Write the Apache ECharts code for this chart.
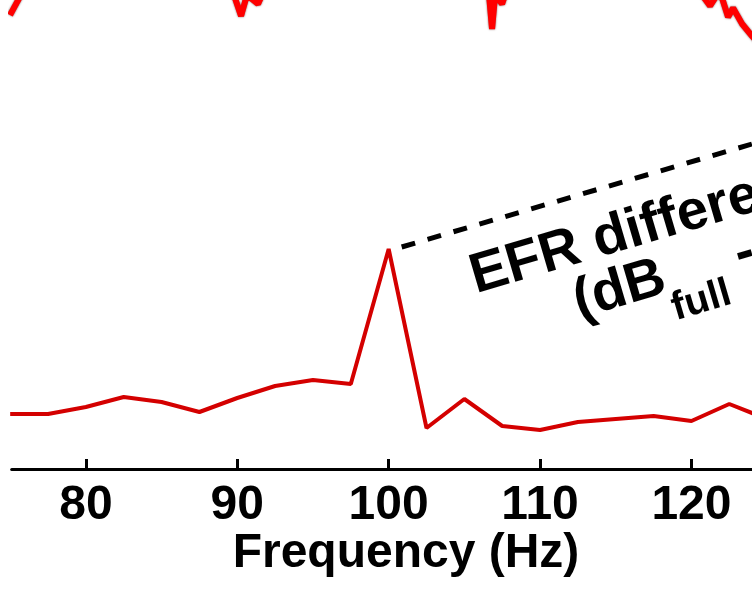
<!DOCTYPE html>
<html>
<head>
<meta charset="utf-8">
<script src="https://cdn.jsdelivr.net/npm/echarts@6/dist/echarts.min.js"></script>
<style>html,body{margin:0;padding:0;background:#fff}#c{width:752px;height:589px}</style>
</head>
<body>
<div id="c"></div>
<script>
// Frequency bins (Hz) and EFR amplitude (arbitrary dB units)
const freqs = [75, 77.5, 80, 82.5, 85, 87.5, 90, 92.5, 95, 97.5, 100, 102.5, 105, 107.5, 110, 112.5, 115, 117.5, 120, 122.5, 125];
const efr   = [5.5, 5.5, 6.2, 7.2, 6.7, 5.7, 7.1, 8.3, 8.9, 8.5, 22.0, 4.1, 7.0, 4.3, 3.9, 4.7, 5.0, 5.3, 4.8, 6.5, 5.0];
const tickValues = [80, 90, 100, 110, 120];
// upper (cropped) trace: only dips that reach into view
const upperSeg1 = [[74.99, 45.4], [75.71, 47.4]];
const upperSeg2 = [[89.78, 47.4], [90.25, 45.3], [90.64, 47.4], [91.37, 46.5], [91.63, 47.4]];
const upperSeg3 = [[106.63, 47.4], [106.83, 44.0], [107.03, 47.4], [107.49, 46.5], [107.69, 47.4]];
const upperSeg4 = [[120.70, 47.4], [121.23, 46.3], [121.69, 47.4], [122.02, 47.1], [122.42, 45.2], [122.75, 46.1], [123.35, 44.5], [124.0, 43.3], [124.53, 42.4]];
// dashed annotation line (start/end in data space)
const dashStart = [100.86, 22.2];
const dashEnd = [124.0, 32.5];

const chart = echarts.init(document.getElementById('c'));
const FONT = 'Liberation Sans, Arial, sans-serif';
const upperStyle = {color: '#ff0000', width: 6, shadowColor: 'rgba(60,0,0,0.7)', shadowBlur: 2};
function upper(seg) {
  return {type: 'line', data: seg, symbol: 'none', lineStyle: upperStyle, silent: true, clip: true, z: 1};
}
// baseline helper for textVerticalAlign 'bottom'
function bl(v, fs) { return v + 0.1535 * fs; }
const F1 = 56, FS = 40;
chart.setOption({
  animation: false,
  grid: {left: 11.7, right: 0, top: 0, bottom: 120},
  xAxis: {
    type: 'value', min: 75.1, max: 124,
    axisLine: {show: true, lineStyle: {color: '#000', width: 3}},
    axisTick: {show: true, inside: true, length: 10, lineStyle: {color: '#000', width: 3}, customValues: tickValues},
    axisLabel: {show: true, customValues: tickValues, fontSize: 48, fontWeight: 'bold', fontFamily: FONT, color: '#000', margin: 13},
    splitLine: {show: false}
  },
  yAxis: {type: 'value', min: 0, max: 46.9, show: false},
  series: [
    {
      type: 'line', data: freqs.map((f, i) => [f, efr[i]]), symbol: 'none', clip: true,
      lineStyle: {color: '#d40000', width: 4}, z: 3,
      markLine: {
        silent: true, symbol: 'none', label: {show: false},
        lineStyle: {color: '#000', width: 5, type: [14, 13]},
        data: [[{coord: dashStart}, {coord: dashEnd}]]
      }
    },
    upper(upperSeg1), upper(upperSeg2), upper(upperSeg3), upper(upperSeg4)
  ],
  graphic: [
    {
      type: 'text', x: 406, y: 554,
      style: {text: 'Frequency (Hz)', font: 'bold 48px ' + FONT, fill: '#000', textAlign: 'center', textVerticalAlign: 'middle'}
    },
    {
      type: 'group', x: 481, y: 296, rotation: 16.4 * Math.PI / 180,
      children: [
        {type: 'text', x: -4, y: bl(0, F1),
          style: {text: 'EFR difference', font: 'bold ' + F1 + 'px ' + FONT, fill: '#000', textAlign: 'left', textVerticalAlign: 'bottom'}},
        {type: 'text', x: 88, y: bl(53, F1),
          style: {text: '(dB', font: 'bold ' + F1 + 'px ' + FONT, fill: '#000', textAlign: 'left', textVerticalAlign: 'bottom'}},
        {type: 'text', x: 180, y: bl(81, FS),
          style: {text: 'full', font: 'bold ' + FS + 'px ' + FONT, fill: '#000', textAlign: 'left', textVerticalAlign: 'bottom'}},
        {type: 'text', x: 240, y: bl(53, F1),
          style: {text: ' - dB', font: 'bold ' + F1 + 'px ' + FONT, fill: '#000', textAlign: 'left', textVerticalAlign: 'bottom'}}
      ]
    }
  ]
});
</script>
</body>
</html>
